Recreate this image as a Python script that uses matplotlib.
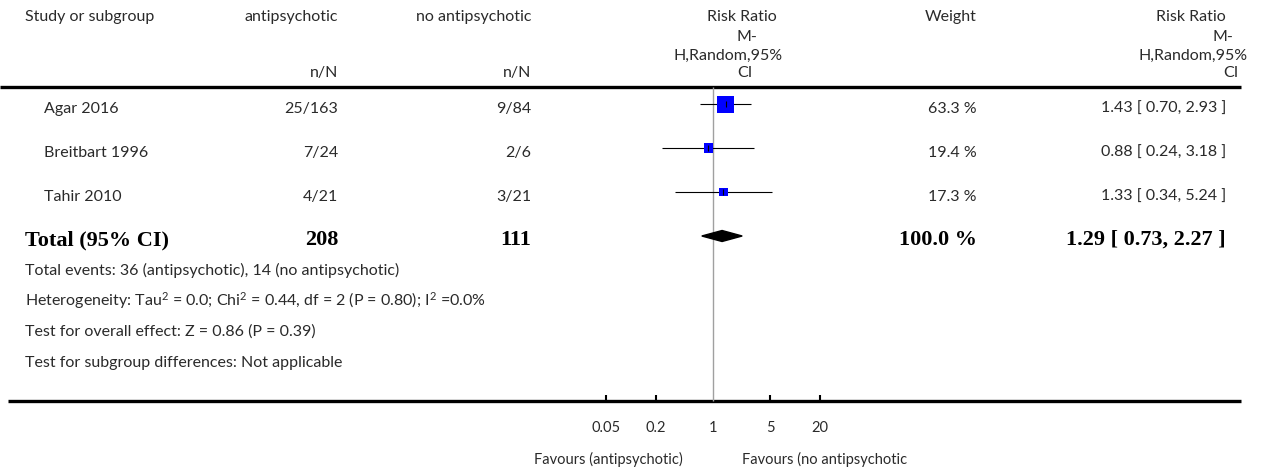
import numpy as np
import matplotlib.pyplot as plt
from matplotlib.patches import Polygon

plt.rcParams['mathtext.fontset'] = 'custom'
plt.rcParams['mathtext.rm'] = 'Lato'
plt.rcParams['mathtext.it'] = 'Lato'

# data
studies = ["Agar 2016", "Breitbart 1996", "Tahir 2010"]
events_ap = [25, 7, 4]
total_ap = [163, 24, 21]
events_no = [9, 2, 3]
total_no = [84, 6, 21]
rr = [1.43, 0.88, 1.33]
ci_lo = [0.70, 0.24, 0.34]
ci_hi = [2.93, 3.18, 5.24]
weights = [63.3, 19.4, 17.3]
pooled_rr, pooled_lo, pooled_hi = 1.29, 0.73, 2.27
total_n_ap, total_n_no = 208, 111
footer = [
    "Total events: 36 (antipsychotic), 14 (no antipsychotic)",
    "Heterogeneity: Tau$^2$ = 0.0; Chi$^2$ = 0.44, df = 2 (P = 0.80); I$^2$ =0.0%",
    "Test for overall effect: Z = 0.86 (P = 0.39)",
    "Test for subgroup differences: Not applicable",
]
ticks = [0.05, 0.2, 1, 5, 20]
tick_labels = ["0.05", "0.2", "1", "5", "20"]

W, H = 1268, 470
TXT = "#2a2a2a"
SANS = "Lato"
SERIF = "Liberation Serif"
FS = 11.5
FS_BOLD = 16

fig = plt.figure(figsize=(W / 100, H / 100), dpi=100)
bg = fig.add_axes([0, 0, 1, 1])
bg.set_xlim(0, W)
bg.set_ylim(H, 0)
bg.axis("off")

# forest panel: log scale, 1 at x=713, ~82 px per decade
fx0, fx1 = 560, 866
fa = fig.add_axes([fx0 / W, 0, (fx1 - fx0) / W, 1])
fa.set_xscale("log")
half = (fx1 - fx0) / 2 / 82
fa.set_xlim(10 ** -half, 10 ** half)
fa.set_ylim(H, 0)
fa.axis("off")


def t(x, y, s, ha="left", **kw):
    kw.setdefault("fontsize", FS)
    kw.setdefault("family", SANS)
    kw.setdefault("color", TXT)
    bg.text(x, y, s, ha=ha, va="center", **kw)


def tb(x, y, s, ha="left"):
    t(x, y, s, ha=ha, family=SERIF, weight="bold", fontsize=FS_BOLD, color="black")


# column anchors
X_NAME, X_STUDY = 25, 44
X_AP, X_NO = 338, 531
X_W, X_RR = 977, 1226

# header
t(X_NAME, 17, "Study or subgroup")
t(X_AP, 17, "antipsychotic", ha="right")
t(X_AP, 73, "n/N", ha="right")
t(X_NO, 17, "no antipsychotic", ha="right")
t(X_NO, 73, "n/N", ha="right")
for s, xr, y in [("Risk Ratio", 777, 17), ("M-", 757, 37),
                 ("H,Random,95%", 783, 56), ("CI", 753, 73)]:
    t(xr, y, s, ha="right")
t(X_W, 17, "Weight", ha="right")
for s, xr, y in [("Risk Ratio", 1226, 17), ("M-", 1233, 37),
                 ("H,Random,95%", 1248, 56), ("CI", 1238, 73)]:
    t(xr, y, s, ha="right")
bg.plot([0, 1241], [87, 87], color="black", lw=2.4, solid_capstyle="butt")

# study rows
row_y = [104 + 44 * i for i in range(len(studies))]
for i, name in enumerate(studies):
    y = row_y[i] + 5
    t(X_STUDY, y, name)
    t(X_AP, y, f"{events_ap[i]}/{total_ap[i]}", ha="right")
    t(X_NO, y, f"{events_no[i]}/{total_no[i]}", ha="right")
    t(X_W, y, f"{weights[i]:.1f} %", ha="right")
    t(X_RR, y, f"{rr[i]:.2f} [ {ci_lo[i]:.2f}, {ci_hi[i]:.2f} ]", ha="right")

fa.hlines(row_y, ci_lo, ci_hi, color="black", lw=0.8)
side_pt = 17 * np.sqrt(np.array(weights) / max(weights)) * 0.72
fa.scatter(rr, row_y, marker="s", s=side_pt ** 2, color="#0000ff",
           edgecolors="none", zorder=3)
fa.scatter(rr, row_y, marker="|", s=14, color="black", lw=0.8, zorder=4)

# total row
ty = 236
tb(X_NAME, ty + 4, "Total (95% CI)")
tb(X_AP, ty + 4, f"{total_n_ap}", ha="right")
tb(X_NO, ty + 4, f"{total_n_no}", ha="right")
tb(X_W, ty + 4, f"{sum(weights):.1f} %", ha="right")
tb(X_RR, ty + 4, f"{pooled_rr:.2f} [ {pooled_lo:.2f}, {pooled_hi:.2f} ]", ha="right")
fa.add_patch(Polygon([(pooled_lo, ty), (pooled_rr, ty - 5.5),
                      (pooled_hi, ty), (pooled_rr, ty + 5.5)],
                     closed=True, color="black", zorder=3))

for i, s in enumerate(footer):
    t(X_NAME, 270 + 31 * i, s)

# axis
fa.vlines(1, 87, 401, color="#a0a0a0", lw=1.0, zorder=1)
bg.plot([8, 1241], [401, 401], color="black", lw=2.4, solid_capstyle="butt")
fa.vlines([v for v in ticks if v != 1], 395, 401, color="black", lw=1.5)
for v, lab in zip(ticks, tick_labels):
    fa.text(v, 428, lab, ha="center", va="center", fontsize=10.5, family=SANS, color=TXT)
t(683, 459, "Favours (antipsychotic)", ha="right", fontsize=10.5)
t(742, 459, "Favours (no antipsychotic", fontsize=10.5)

fig.savefig("out.png", dpi=100)
